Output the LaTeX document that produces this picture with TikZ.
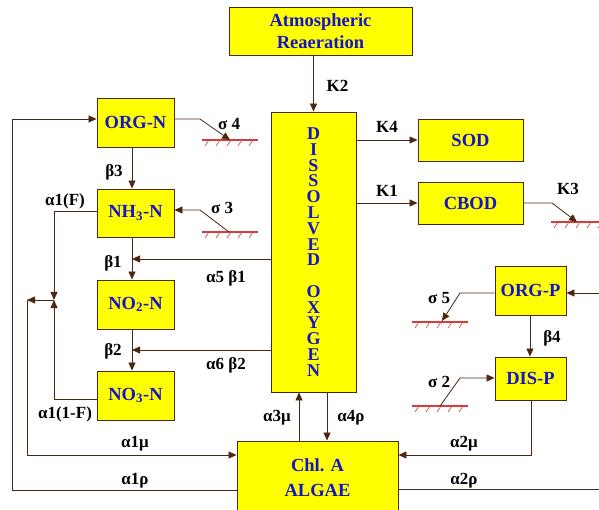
\documentclass[tikz,border=0pt]{standalone}
\usepackage{fontspec}
\setmainfont{Liberation Serif}
\definecolor{boxyellow}{RGB}{255,255,0}
\definecolor{boxblue}{RGB}{20,20,200}
\definecolor{flowbrown}{RGB}{75,40,15}
\definecolor{bedred}{RGB}{215,60,60}
\usetikzlibrary{
    arrows.meta
}
\tikzstyle{box} = [
    rectangle,
    draw=flowbrown,
    line width=0.9pt,
    fill=boxyellow,
    text=boxblue,
    inner sep=0pt,
    align=center,
    font=\fontsize{18.5}{22}\selectfont\bfseries
]
\tikzstyle{arrow} = [
    -{Triangle[length=8pt, width=7pt]},
    line width=0.8pt,
    draw=flowbrown
]
\tikzstyle{flow} = [
    line width=0.8pt,
    draw=flowbrown
]
\tikzstyle{rate} = [
    inner sep=0pt,
    font=\fontsize{17}{17}\selectfont\bfseries
]
\tikzstyle{bed} = [
    line width=1.4pt,
    draw=bedred
]
\tikzstyle{bedhatch} = [
    line width=0.6pt,
    draw=bedred
]

\begin{document}
\begin{tikzpicture}[x=1pt, y=-1pt]
    \useasboundingbox (0,0) rectangle (599,510);

    % Boxes
    \node[box, minimum width=183pt, minimum height=48pt] (atm) at (320.5,31) {Atmospheric\\Reaeration};
    \node[box, minimum width=85pt, minimum height=280pt, font=\fontsize{18}{15.77}\selectfont\bfseries] (do) at (313.5,252)
        {D\\I\\S\\S\\O\\L\\V\\E\\D\\\mbox{}\\O\\X\\Y\\G\\E\\N};
    \node[box, minimum width=77pt, minimum height=49pt] (orgn) at (135.5,122.5) {ORG-N};
    \node[box, minimum width=77pt, minimum height=48pt] (nh3) at (135.5,213) {NH\textsubscript{3}-N};
    \node[box, minimum width=77pt, minimum height=49pt] (no2) at (135.5,304.5) {NO\textsubscript{2}-N};
    \node[box, minimum width=77pt, minimum height=49pt] (no3) at (135.5,395.5) {NO\textsubscript{3}-N};
    \node[box, minimum width=105pt, minimum height=42pt] (sod) at (470.5,140) {SOD};
    \node[box, minimum width=105pt, minimum height=42pt] (cbod) at (470.5,203) {CBOD};
    \node[box, minimum width=71pt, minimum height=49pt] (orgp) at (530.5,290.5) {ORG-P};
    \node[box, minimum width=71pt, minimum height=43pt] (disp) at (530.5,378.5) {DIS-P};
    \node[box, minimum width=161pt, minimum height=74pt, font=\fontsize{18.5}{25}\selectfont\bfseries] (algae) at (317.5,478) {Chl. A\\ALGAE};

    % Sediment beds
    \foreach \sx/\sy in {202/140, 202/232, 551/222, 412/322, 412/406} {
        \draw[bed] (\sx,\sy) -- ++(56,0);
        \foreach \h in {0,...,4}
            \draw[bedhatch] (\sx+7+11*\h,\sy) -- ++(-4,6);
    }

    % Free ends and corners
    \coordinate (nx) at (132,0);
    \coordinate (b1j) at (132,259);
    \coordinate (b2j) at (132,350);
    \coordinate (s4a) at (200,119);
    \coordinate (s4b) at (230,140);
    \coordinate (s3a) at (229,232);
    \coordinate (s3b) at (200,210);
    \coordinate (k3a) at (552,203);
    \coordinate (k3b) at (577,222);
    \coordinate (f1) at (54,211);
    \coordinate (f2) at (54,399);
    \coordinate (jn) at (54,300);
    \coordinate (mu1) at (27,300);
    \coordinate (mu2) at (27,455);
    \coordinate (rho1) at (12,490);
    \coordinate (rho2) at (12,119);
    \coordinate (mu3) at (531,455);
    \coordinate (rho3) at (599,489);
    \coordinate (rho4) at (599,293);
    \coordinate (px) at (530,0);
    \coordinate (s5a) at (460,293);
    \coordinate (s5b) at (442,321);
    \coordinate (s2a) at (440,406);
    \coordinate (s2b) at (460,378);
    \coordinate (a3x) at (299,0);
    \coordinate (a4x) at (327,0);

    % Oxygen exchanges
    \draw[arrow] (atm.south -| do.north) -- (do.north);
    \draw[arrow] (do.east |- sod.west) -- (sod.west);
    \draw[arrow] (do.east |- cbod.west) -- (cbod.west);
    \draw[arrow] (cbod.east) -- (k3a) -- (k3b);
    \node[rate] (k2) at (337.5,86) {K2};
    \node[rate] (k4) at (387,127) {K4};
    \node[rate] (k1) at (387,191) {K1};
    \node[rate] (k3) at (568,189) {K3};

    % Nitrogen chain
    \draw[arrow] (orgn.south -| nx) -- (nh3.north -| nx);
    \draw[arrow] (nh3.south -| nx) -- (no2.north -| nx);
    \draw[arrow] (no2.south -| nx) -- (no3.north -| nx);
    \draw[arrow] (do.west |- b1j) -- (b1j);
    \draw[arrow] (do.west |- b2j) -- (b2j);
    \draw[arrow] (orgn.east |- s4a) -- (s4a) -- (s4b);
    \draw[arrow] (s3a) -- (s3b) -- (nh3.east |- s3b);
    \node[rate] (lb3) at (114,172) {β3};
    \node[rate] (lb1) at (113,263) {β1};
    \node[rate] (lb2) at (113,351) {β2};
    \node[rate] (la5) at (226,278) {α5 β1};
    \node[rate] (la6) at (226,365) {α6 β2};
    \node[rate] (ls4) at (229,124) {σ 4};
    \node[rate] (ls3) at (222,208) {σ 3};

    % Algal uptake of nitrogen
    \draw[arrow] (nh3.west |- f1) -- (f1) -- (jn);
    \draw[arrow] (no3.west |- f2) -- (f2) -- (jn);
    \draw[arrow] (jn) -- (mu1);
    \draw[arrow] (mu1) -- (mu2) -- (algae.west |- mu2);
    \draw[arrow] (algae.west |- rho1) -- (rho1) -- (rho2) -- (orgn.west |- rho2);
    \node[rate] (laf) at (65,201) {α1(F)};
    \node[rate] (la1f) at (65,414) {α1(1-F)};
    \node[rate] (la1m) at (135,444) {α1μ};
    \node[rate] (la1r) at (135,481) {α1ρ};

    % Phosphorus chain
    \draw[arrow] (orgp.south -| px) -- (disp.north -| px);
    \draw[arrow] (orgp.west |- s5a) -- (s5a) -- (s5b);
    \draw[arrow] (s2a) -- (s2b) -- (disp.west |- s2b);
    \draw[arrow] (disp.south -| mu3) -- (mu3) -- (algae.east |- mu3);
    \draw[flow] (algae.east |- rho3) -- (rho3);
    \draw[arrow] (rho4) -- (orgp.east |- rho4);
    \node[rate] (lb4) at (552,338) {β4};
    \node[rate] (ls5) at (439,298) {σ 5};
    \node[rate] (ls2) at (439,382) {σ 2};
    \node[rate] (la2m) at (464,444) {α2μ};
    \node[rate] (la2r) at (464,481) {α2ρ};

    % Algae and oxygen
    \draw[arrow] (algae.north -| a3x) -- (do.south -| a3x);
    \draw[arrow] (do.south -| a4x) -- (algae.north -| a4x);
    \node[rate] (la3) at (277,418) {α3μ};
    \node[rate] (la4) at (351,418) {α4ρ};
\end{tikzpicture}
\end{document}
